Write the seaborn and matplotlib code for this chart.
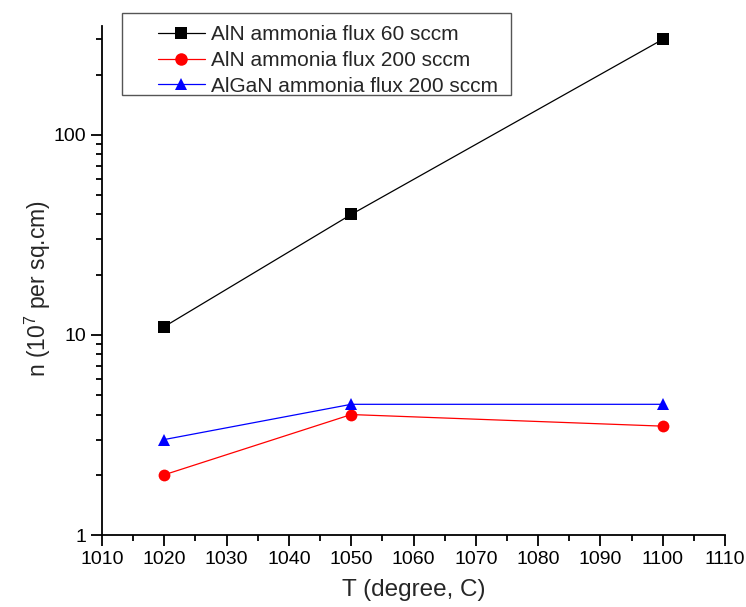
import matplotlib
matplotlib.use("Agg")
import matplotlib.pyplot as plt
from matplotlib.ticker import MultipleLocator, LogLocator, NullFormatter, FixedLocator, FixedFormatter
from matplotlib.lines import Line2D
from matplotlib.patches import Rectangle
import seaborn as sns
import pandas as pd

temps = [1020, 1050, 1100]
aln_60 = [11, 40, 300]
aln_200 = [2, 4, 3.5]
algan_200 = [3, 4.5, 4.5]
series_names = ["AlN ammonia flux 60 sccm", "AlN ammonia flux 200 sccm", "AlGaN ammonia flux 200 sccm"]
colors = ["#000000", "#ff0000", "#0000ff"]
markers = ["s", "o", "^"]

df = pd.concat([
    pd.DataFrame({"T": temps, "n": vals, "series": name})
    for name, vals in zip(series_names, [aln_60, aln_200, algan_200])
])

sns.set_style("ticks")
plt.rcParams["font.family"] = ["Liberation Sans", "DejaVu Sans"]
plt.rcParams["mathtext.fontset"] = "custom"
plt.rcParams["mathtext.rm"] = "Liberation Sans"
plt.rcParams["mathtext.it"] = "Liberation Sans"

W, H = 746, 607
fig = plt.figure(figsize=(W/100, H/100), dpi=100)
ax = fig.add_axes([102/W, (H-535)/H, (725-102)/W, (535-26)/H])

sns.lineplot(data=df, x="T", y="n", hue="series", style="series",
             palette=dict(zip(series_names, colors)),
             markers=dict(zip(series_names, markers)), dashes=False,
             markersize=8.5, markeredgewidth=0, linewidth=0.9, ax=ax, legend=False)

ax.set_yscale("log")
ax.set_xlim(1010, 1110)
ax.set_ylim(1, 350)
ax.xaxis.set_major_locator(MultipleLocator(10))
ax.xaxis.set_minor_locator(MultipleLocator(5))
ax.yaxis.set_major_locator(FixedLocator([1, 10, 100]))
ax.yaxis.set_major_formatter(FixedFormatter(["1", "10", "100"]))
ax.yaxis.set_minor_locator(LogLocator(base=10, subs=range(2, 10)))
ax.yaxis.set_minor_formatter(NullFormatter())

for s in ["top", "right"]:
    ax.spines[s].set_visible(False)
for s in ["left", "bottom"]:
    ax.spines[s].set_linewidth(1.3)
    ax.spines[s].set_color("black")

ax.tick_params(axis="both", which="major", direction="out", length=8, width=1.3,
               labelsize=14, color="black", labelcolor="black")
ax.tick_params(axis="both", which="minor", direction="out", length=4, width=1.3, color="black")

ax.set_xlabel("T (degree, C)", fontsize=17.5, labelpad=8)
ax.set_ylabel(r"n (10$^7$ per sq.cm)", fontsize=16.5, labelpad=0)
ax.yaxis.label.set_y(0.485)

handles = [Line2D([0], [0], color=c, marker=m, markersize=9, markeredgewidth=0, linewidth=0.9)
           for c, m in zip(colors, markers)]
leg = ax.legend(handles, series_names, loc="upper left",
                bbox_to_anchor=(158/W, 1 - 25/H), bbox_transform=fig.transFigure,
                fontsize=15, frameon=False, handlelength=2.25,
                borderpad=0, labelspacing=0.33, handletextpad=0.3, borderaxespad=0)
fig.patches.append(Rectangle((122/W, 1 - 95/H), (511-122)/W, (95-13)/H,
                             transform=fig.transFigure, fill=False,
                             edgecolor="#555555", linewidth=1.0, zorder=5))

fig.savefig("out.png", dpi=100)
